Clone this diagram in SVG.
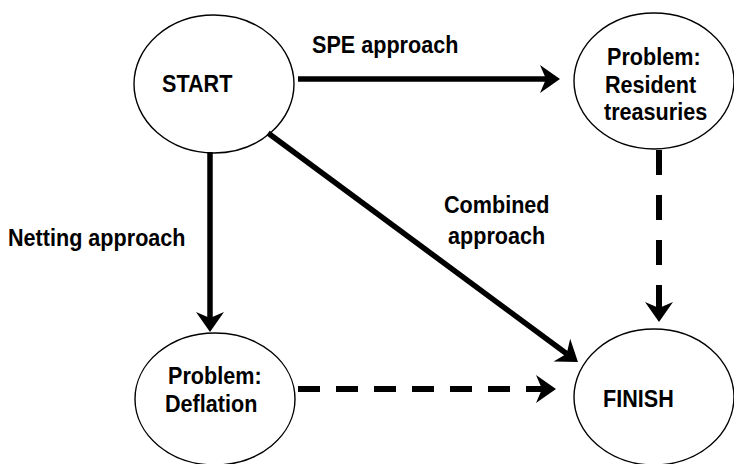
<svg xmlns="http://www.w3.org/2000/svg" width="734" height="464" viewBox="0 0 734 464">
<style>
.node{fill:#fff;stroke:#000;stroke-width:1.4}
.t{font-family:"Liberation Sans",Arial,sans-serif;font-weight:bold;font-size:21.6px;fill:#000}
.c{fill:none;stroke:#000;stroke-width:5.5}
.d{fill:none;stroke:#000;stroke-width:6}
</style>
<defs>
<marker id="ah" markerUnits="userSpaceOnUse" markerWidth="22" markerHeight="30" viewBox="0 -15 22 30" refX="6" refY="0" orient="auto">
<path d="M20,0 L0,-14 L6,0 L0,14 Z" fill="#000"/>
</marker>
</defs>
<g id="start">
<ellipse class="node" cx="214" cy="84" rx="80" ry="69"/>
<text class="t" transform="translate(162,92) scale(1,1.15)">START</text>
</g>
<g id="resident">
<ellipse class="node" cx="654" cy="81" rx="80" ry="68"/>
<text class="t" transform="translate(607,65) scale(1,1.15)">Problem:</text>
<text class="t" transform="translate(605,93) scale(1,1.15)">Resident</text>
<text class="t" transform="translate(604,120) scale(1,1.15)">treasuries</text>
</g>
<g id="deflation">
<ellipse class="node" cx="215" cy="399" rx="80" ry="66"/>
<text class="t" transform="translate(168,384) scale(1,1.15)">Problem:</text>
<text class="t" transform="translate(165,412) scale(1,1.15)">Deflation</text>
</g>
<g id="finish">
<ellipse class="node" cx="654" cy="397" rx="80" ry="68"/>
<text class="t" transform="translate(603,407) scale(1,1.15)">FINISH</text>
</g>
<g id="connectors">
<line class="c" x1="298" y1="79" x2="546" y2="79" marker-end="url(#ah)"/>
<line class="c" x1="210" y1="152" x2="210" y2="318" marker-end="url(#ah)"/>
<line class="c" x1="268" y1="133" x2="566.7" y2="353.7" marker-end="url(#ah)"/>
<line class="d" x1="298" y1="389" x2="542" y2="389" stroke-dasharray="22 16" marker-end="url(#ah)"/>
<line class="d" x1="659" y1="150" x2="659" y2="308" stroke-dasharray="25 20" marker-end="url(#ah)"/>
<text class="t" transform="translate(312,53) scale(1,1.15)">SPE approach</text>
<text class="t" transform="translate(8,246) scale(1,1.15)">Netting approach</text>
<text class="t" transform="translate(444,213) scale(1,1.15)">Combined</text>
<text class="t" transform="translate(448,244) scale(1,1.15)">approach</text>
</g>
</svg>
